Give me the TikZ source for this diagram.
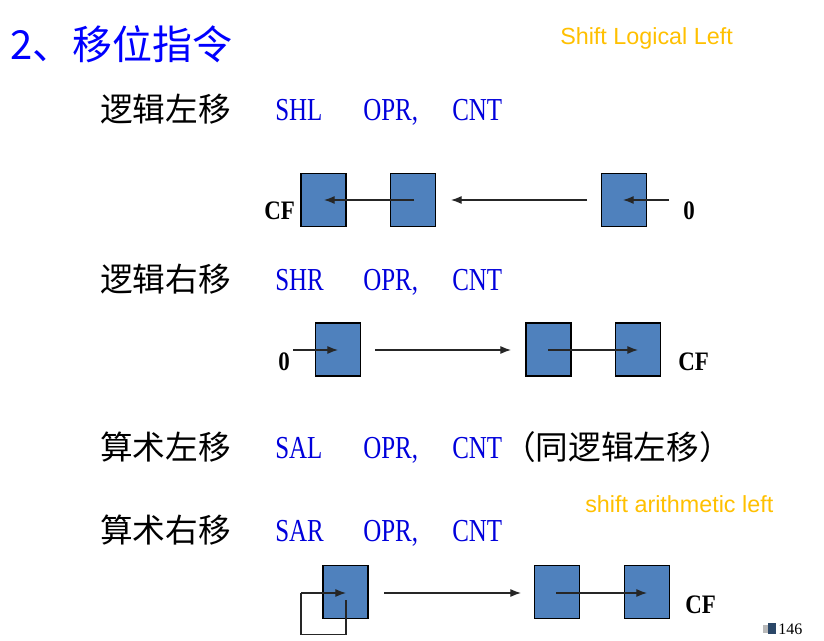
\documentclass[tikz,border=0pt]{standalone}
\usepackage{fontspec}
\setmainfont{Liberation Serif}
\newfontfamily\cjk{Noto Sans CJK SC}
\newfontfamily\cond[FakeStretch=0.78]{Liberation Serif}
\newfontfamily\cff[FakeStretch=0.86]{Liberation Serif}
\newfontfamily\arialf{Liberation Sans}
\usetikzlibrary{arrows.meta}
\definecolor{boxblue}{HTML}{4F81BD}
\definecolor{gold}{HTML}{FFC000}
\definecolor{cmdblue}{RGB}{0,0,220}
\definecolor{titleblue}{RGB}{0,0,255}
\tikzset{
  reg/.style={shape=rectangle, draw=black, line width=1pt, fill=boxblue, minimum width=33.75pt, minimum height=39.5pt, inner sep=0pt},
  arr/.style={-{Latex[length=8pt,width=6pt]}, line width=0.85pt, draw=black!85},
  feed/.style={line width=0.85pt, draw=black!85},
  cjktxt/.style={anchor=base west, inner sep=0pt, font=\cjk\fontsize{24.5}{28}\selectfont},
  cmd/.style={anchor=base west, inner sep=0pt, text=cmdblue, font=\cond\fontsize{24}{28}\selectfont},
  lbl/.style={anchor=base west, inner sep=0pt, font=\cff\bfseries\fontsize{20}{24}\selectfont},
  note/.style={anchor=base west, inner sep=0pt, text=gold, font=\arialf\fontsize{17.5}{21}\selectfont}
}
\begin{document}
\begin{tikzpicture}[x=0.75pt,y=-0.75pt]
\useasboundingbox[fill=white] (0,0) rectangle (824,641);

% title and notes
\node[anchor=base west, inner sep=0pt, text=titleblue, font=\cjk\fontsize{30}{34}\selectfont] (title) at (10,60) {2、移位指令};
\node[note] (n1) at (560,45) {Shift Logical Left};
\node[note] (n2) at (585,512) {shift arithmetic left};

% row 1
\node[cjktxt] (r1) at (100,122) {逻辑左移};
\node[cmd] (r1a) at (275,121) {SHL};
\node[cmd] (r1b) at (363,121) {OPR,};
\node[cmd] (r1c) at (452,121) {CNT};

% row 2
\node[cjktxt] (r2) at (100,292) {逻辑右移};
\node[cmd] (r2a) at (275,291) {SHR};
\node[cmd] (r2b) at (363,291) {OPR,};
\node[cmd] (r2c) at (452,291) {CNT};

% row 3
\node[cjktxt] (r3) at (100,459) {算术左移};
\node[cmd] (r3a) at (275,458) {SAL};
\node[cmd] (r3b) at (363,458) {OPR,};
\node[cmd] (r3c) at (452,458) {CNT};
\node[cjktxt] (r3d) at (503,459) {（同逻辑左移）};

% row 4
\node[cjktxt] (r4) at (100,542) {算术右移};
\node[cmd] (r4a) at (275,541) {SAR};
\node[cmd] (r4b) at (363,541) {OPR,};
\node[cmd] (r4c) at (452,541) {CNT};

% diagram 1 : SHL
\node[reg] (A1) at (323.5,200) {};
\node[reg] (A2) at (413.2,200) {};
\node[reg] (A3) at (624.2,200) {};
\node[lbl] (cf1) at (264,220) {CF};
\node[lbl] (z1) at (683,220) {0};
\coordinate (a1s) at (414,200); \coordinate (a1e) at (324,200);
\coordinate (a2s) at (587,200); \coordinate (a2e) at (451,200);
\coordinate (a3s) at (669,200); \coordinate (a3e) at (623,200);
\draw[arr] (a1s) -- (a1e);
\draw[arr] (a2s) -- (a2e);
\draw[arr] (a3s) -- (a3e);

% diagram 2 : SHR
\node[reg] (B1) at (338.2,349.5) {};
\node[reg] (B2) at (548.5,349.5) {};
\node[reg] (B3) at (638.2,349.5) {};
\node[lbl] (z2) at (278,370) {0};
\node[lbl] (cf2) at (678,370) {CF};
\coordinate (b1s) at (293,350); \coordinate (b1e) at (338,350);
\coordinate (b2s) at (375,350); \coordinate (b2e) at (511,350);
\coordinate (b3s) at (548,350); \coordinate (b3e) at (638,350);
\draw[arr] (b1s) -- (b1e);
\draw[arr] (b2s) -- (b2e);
\draw[arr] (b3s) -- (b3e);

% diagram 4 : SAR
\node[reg] (C1) at (345.5,592) {};
\node[reg] (C2) at (557.2,592) {};
\node[reg] (C3) at (647,592) {};
\node[lbl] (cf4) at (685,613) {CF};
\coordinate (c0s) at (346,600);
\coordinate (c0a) at (346,634.5);
\coordinate (c0b) at (301,634.5);
\coordinate (c0c) at (301,593);
\coordinate (c0e) at (346,593);
\draw[feed] (c0s) -- (c0a) -- (c0b) -- (c0c);
\draw[arr] (c0c) -- (c0e);
\coordinate (c1s) at (384,593); \coordinate (c1e) at (521,593);
\coordinate (c2s) at (556,593); \coordinate (c2e) at (647,593);
\draw[arr] (c1s) -- (c1e);
\draw[arr] (c2s) -- (c2e);

% page number
\fill[gray!55] (763,625) rectangle (769,633);
\fill[boxblue!55!black] (768,623) rectangle (776,634);
\node[anchor=base west, inner sep=0pt, font=\fontsize{12}{14}\selectfont] (pg) at (778,634) {146};
\end{tikzpicture}
\end{document}
